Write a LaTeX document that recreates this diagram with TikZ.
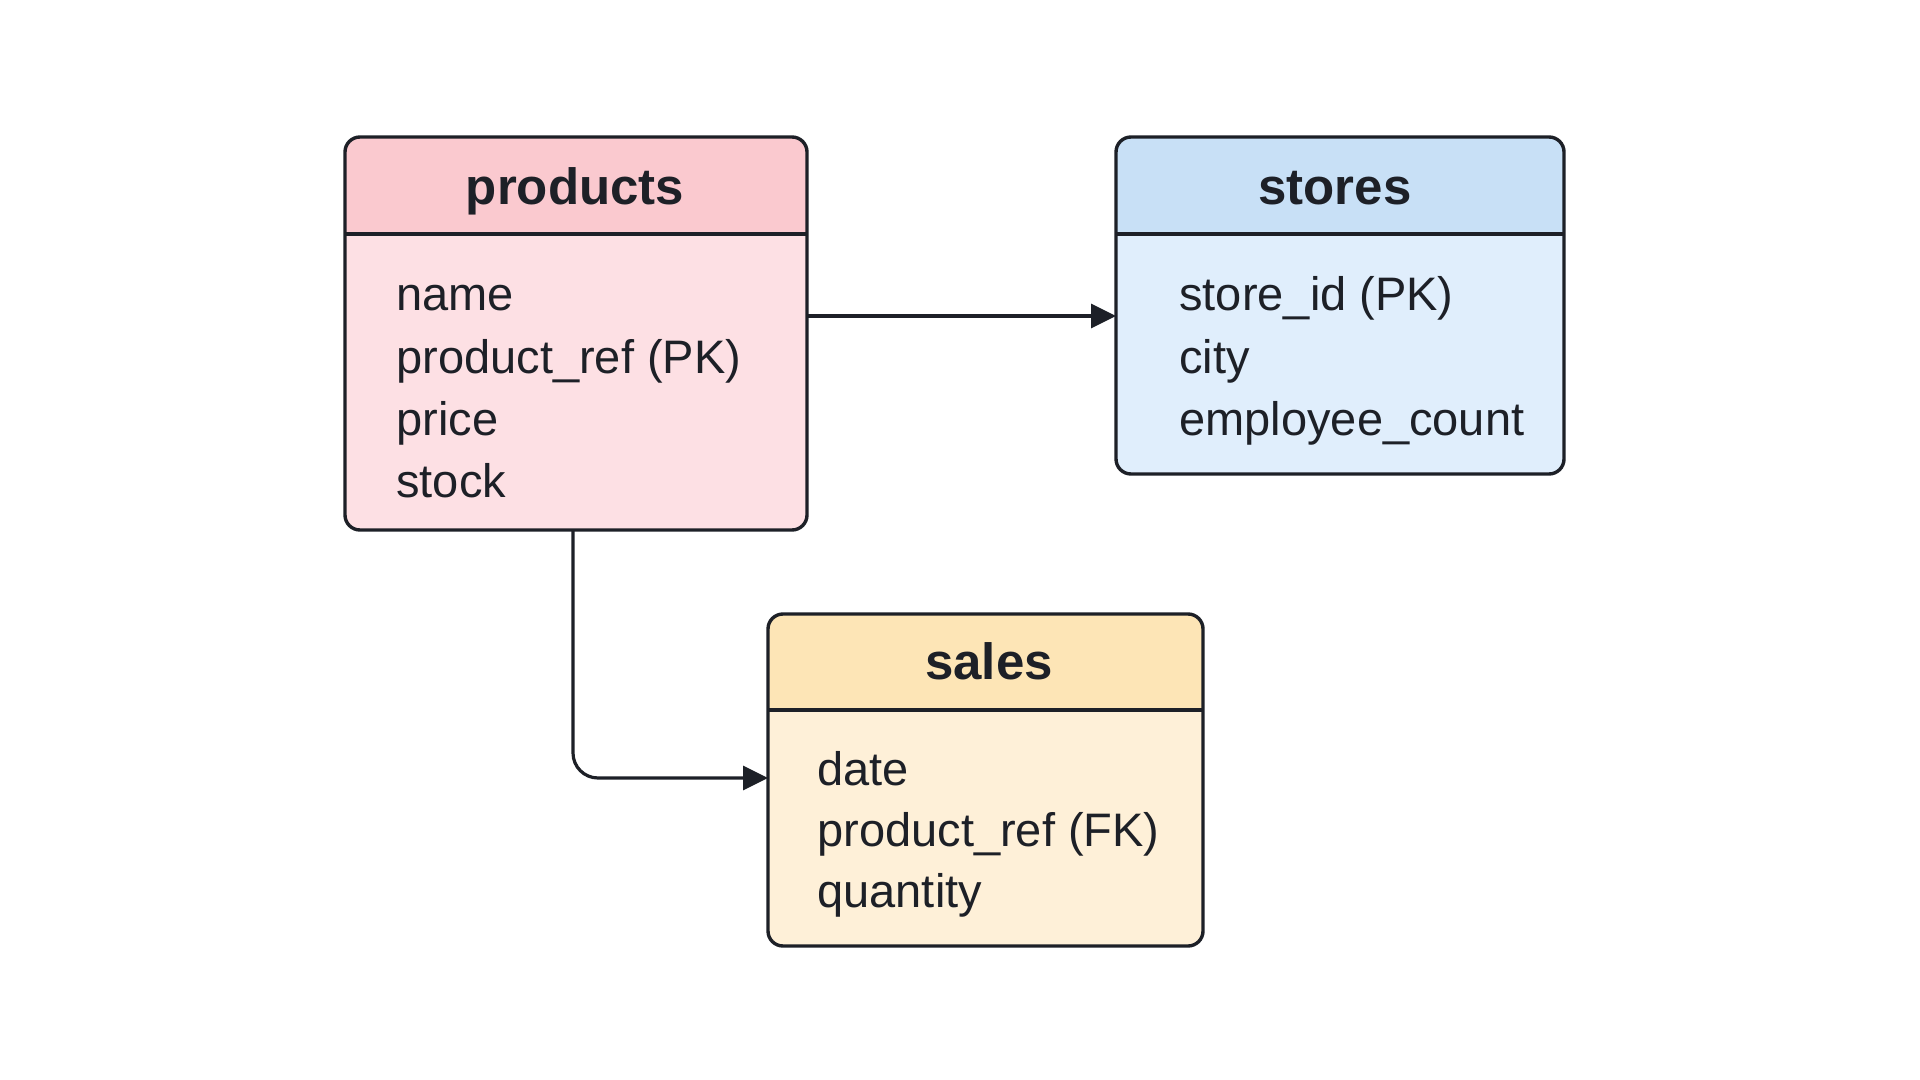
\documentclass[tikz,border=0pt]{standalone}
\usepackage{fontspec}
\setmainfont{Liberation Sans}
\usetikzlibrary{arrows.meta}
\definecolor{ink}{HTML}{1D2027}
\definecolor{phead}{HTML}{FAC9CF}
\definecolor{pbody}{HTML}{FDE0E4}
\definecolor{shead}{HTML}{C8E0F6}
\definecolor{sbody}{HTML}{E0EEFC}
\definecolor{ahead}{HTML}{FDE5B6}
\definecolor{abody}{HTML}{FEF0D8}
\begin{document}
\begin{tikzpicture}[x=0.5pt,y=-0.5pt,
  tbl/.style={rectangle, inner sep=0pt, outer sep=0pt},
  border/.style={draw=ink, line width=1.7pt},
  title/.style={font=\fontsize{25.5}{30}\selectfont\bfseries, text=ink, anchor=base, inner sep=0pt},
  field/.style={font=\fontsize{23.5}{28}\selectfont, text=ink, anchor=base west, inner sep=0pt},
  link/.style={draw=ink, line width=1.6pt, -{Triangle[length=12.5pt,width=12pt]}, rounded corners=12.5pt}]
\useasboundingbox (0,0) rectangle (1920,1080);
\fill[white] (0,0) rectangle (1920,1080);

% products
\node[tbl, minimum width=231pt, minimum height=196.5pt] (products) at (576,333.5) {};
\begin{scope}
\clip[rounded corners=7.5pt] (products.north west) rectangle (products.south east);
\fill[pbody] (products.north west) rectangle (products.south east);
\fill[phead] (products.north west) rectangle (products.east |- 0,234);
\end{scope}
\draw[border] (products.west |- 0,234) -- (products.east |- 0,234);
\draw[border, rounded corners=7.5pt] (products.north west) rectangle (products.south east);
\node[title] (productsT) at (575,205) {products};
\node[field] (p1) at (396,311) {name};
\node[field] (p2) at (396,373) {product\_ref (PK)};
\node[field] (p3) at (396,435) {price};
\node[field] (p4) at (396,497) {stock};

% stores
\node[tbl, minimum width=224pt, minimum height=168.5pt] (stores) at (1340,305.5) {};
\begin{scope}
\clip[rounded corners=7.5pt] (stores.north west) rectangle (stores.south east);
\fill[sbody] (stores.north west) rectangle (stores.south east);
\fill[shead] (stores.north west) rectangle (stores.east |- 0,234);
\end{scope}
\draw[border] (stores.west |- 0,234) -- (stores.east |- 0,234);
\draw[border, rounded corners=7.5pt] (stores.north west) rectangle (stores.south east);
\node[title] (storesT) at (1335,205) {stores};
\node[field] (s1) at (1179,311) {store\_id (PK)};
\node[field] (s2) at (1179,373) {city};
\node[field] (s3) at (1179,435) {employee\_count};

% sales
\node[tbl, minimum width=217.5pt, minimum height=166pt] (sales) at (985.5,780) {};
\begin{scope}
\clip[rounded corners=7.5pt] (sales.north west) rectangle (sales.south east);
\fill[abody] (sales.north west) rectangle (sales.south east);
\fill[ahead] (sales.north west) rectangle (sales.east |- 0,710);
\end{scope}
\draw[border] (sales.west |- 0,710) -- (sales.east |- 0,710);
\draw[border, rounded corners=7.5pt] (sales.north west) rectangle (sales.south east);
\node[title] (salesT) at (989,679) {sales};
\node[field] (a1) at (817,785) {date};
\node[field] (a2) at (817,846) {product\_ref (FK)};
\node[field] (a3) at (817,907) {quantity};

% links
\draw[link] (products.east |- 0,316) -- (stores.west |- 0,316);
\draw[link] (products.south -| 573,0) |- (sales.west |- 0,778);
\end{tikzpicture}
\end{document}
